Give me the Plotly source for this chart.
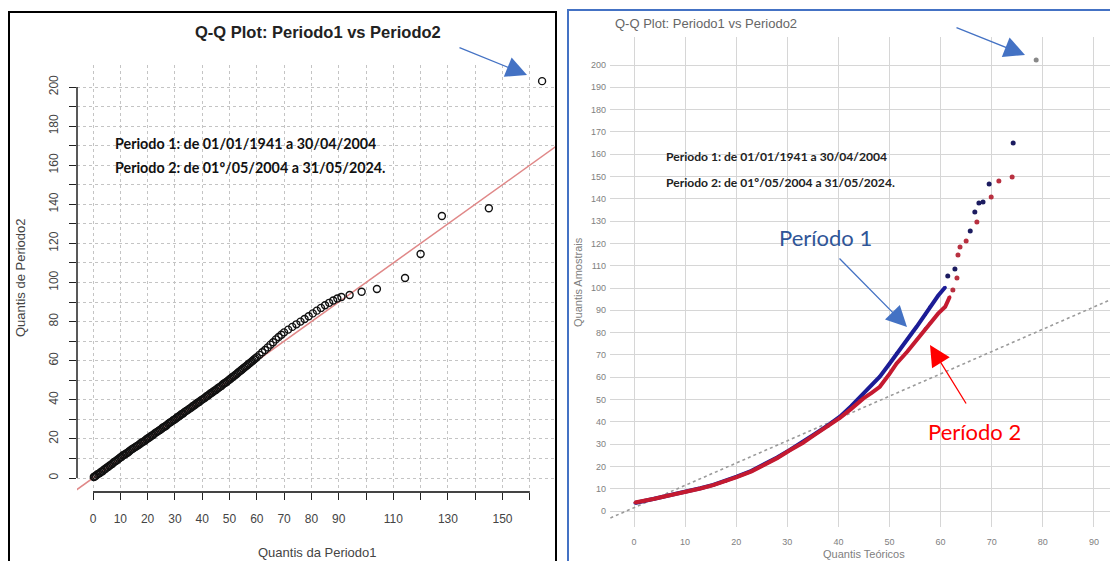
import plotly.graph_objects as go

# The page body has an 8 px margin: the figure is sized to fill the rest of the window.
WIN_OFF = 8
FW, FH = 1118 - WIN_OFF, 561 - WIN_OFF

# ---------------- data: left panel (Periodo1 vs Periodo2 quantiles) ----------------
p1_quantiles = [0.3, 0.6, 1.0, 1.5, 2.0, 2.5, 3.0, 3.5, 4.0, 4.5, 5.0, 5.5, 6.0, 6.5, 7.0, 7.5, 8.0, 8.5, 9.0, 9.5,
                10.0, 10.5, 11.0, 11.5, 12.0, 12.5, 13.0, 13.5, 14.0, 14.5, 15.0, 15.5, 16.0, 16.5, 17.0, 17.5,
                18.0, 18.5, 19.0, 19.5, 20.0, 20.5, 21.0, 21.5, 22.0, 22.5, 23.0, 23.5, 24.0, 24.5, 25.0, 25.5,
                26.0, 26.5, 27.0, 27.5, 28.0, 28.5, 29.0, 29.5, 30.0, 30.5, 31.0, 31.5, 32.0, 32.5, 33.0, 33.5,
                34.0, 34.5, 35.0, 35.5, 36.0, 36.5, 37.0, 37.5, 38.0, 38.5, 39.0, 39.5, 40.0, 40.5, 41.0, 41.5,
                42.0, 42.5, 43.0, 43.5, 44.0, 44.5, 45.0, 45.5, 46.0, 46.5, 47.0, 47.5, 48.0, 48.5, 49.0, 49.5,
                50.0, 50.5, 51.0, 51.5, 52.0, 52.5, 53.0, 53.5, 54.0, 54.5, 55.0, 55.5, 56.0, 56.5, 57.0, 57.5,
                58.0, 58.5, 59.0, 59.5, 60.0,
                61, 62, 63, 64, 65, 66, 67, 68, 69, 70,
                71.5, 73, 74.5, 76, 77.5, 79, 80.5, 82, 83.5, 85, 86.5, 88, 89.5, 91,
                94, 98.4, 104, 114.3, 120, 127.8, 145, 164.5]
p2_quantiles = [0.5, 0.8, 1.1, 1.8, 2.1, 2.6, 3.2, 3.4, 4.2, 4.6, 5.3, 5.6, 6.3, 6.7, 7.2, 7.9, 8.4, 8.8, 9.3, 9.9,
                10.5, 10.9, 11.6, 11.9, 12.4, 12.8, 13.3, 13.9, 14.5, 14.9, 15.4, 15.8, 16.3, 16.7, 17.2, 17.8,
                18.3, 18.6, 19.1, 19.7, 20.2, 20.6, 21.1, 21.7, 22.0, 22.7, 23.2, 23.6, 24.1, 24.6, 25.0, 25.7,
                26.1, 26.5, 27.0, 27.7, 28.2, 28.6, 29.1, 29.7, 30.0, 30.6, 31.2, 31.6, 32.1, 32.7, 33.0, 33.7,
                34.2, 34.6, 35.1, 35.6, 36.0, 36.7, 37.1, 37.6, 38.2, 38.6, 39.0, 39.7, 40.1, 40.6, 41.0, 41.7,
                42.1, 42.6, 43.2, 43.6, 44.1, 44.7, 45.0, 45.7, 46.2, 46.6, 47.1, 47.8, 48.3, 48.7, 49.2, 49.8,
                50.4, 50.9, 51.5, 52.0, 52.6, 53.1, 53.7, 54.3, 54.9, 55.4, 56.0, 56.6, 57.1, 57.7, 58.3, 58.8,
                59.4, 60.0, 60.6, 61.2, 61.8,
                63.0, 64.3, 65.5, 66.8, 68.2, 69.4, 70.9, 72.1, 73.3, 74.5,
                75.9, 77.3, 78.6, 80.0, 81.3, 82.7, 84.2, 85.6, 87.0, 88.4, 89.6, 90.8, 91.8, 92.6,
                93.6, 95.3, 96.7, 102.3, 114.6, 134.0, 138.0, 203.0]
assert len(p1_quantiles) == len(p2_quantiles), (len(p1_quantiles), len(p2_quantiles))
ref_left_x = [-10, 180]
ref_left_y = [-10, 180]

left_xticks = [0, 10, 20, 30, 40, 50, 60, 70, 80, 90, 100, 110, 120, 130, 140, 150, 160]
left_xlabels = ["0", "10", "20", "30", "40", "50", "60", "70", "80", "90", "", "110", "", "130", "", "150", ""]
left_yticks = [0, 10, 20, 30, 40, 50, 60, 70, 80, 90, 100, 110, 120, 130, 140, 150, 160, 170, 180, 190, 200]
left_ylabels = ["0", "", "20", "", "40", "", "60", "", "80", "", "100", "", "120", "", "140", "", "160", "", "180", "", "200"]

# ---------------- data: right panel (theoretical vs sample quantiles) ----------------
per1_curve_x = [0.2, 2, 4, 5.7, 8, 10.3, 13, 15.5, 18, 20.1, 23, 25.3, 28, 30.5, 33, 35.1, 38, 40.3,
                42.5, 44.9, 46.5, 48.1, 50, 51.4, 53.5, 55.3, 57, 57.9, 59.5, 60.9]
per1_curve_y = [3.6, 4.4, 5.4, 6.4, 7.6, 8.7, 10.2, 11.7, 13.5, 15.4, 18.0, 20.6, 24.0, 27.4, 30.8, 34.1, 38.5, 42.3,
                47.0, 52.8, 56.5, 60.2, 66.0, 70.7, 77.0, 82.6, 88.0, 91.6, 96.5, 100.3]
per1_tail_x = [61.4, 62.8, 65.8, 66.7, 67.5, 68.3, 69.5, 74.2]
per1_tail_y = [105.4, 108.5, 125.6, 134.1, 138.1, 138.6, 146.6, 165.0]

per2_curve_x = [0.2, 2, 4, 5.7, 8, 10.3, 13, 15.5, 18, 20.1, 23, 25.3, 28, 30.5, 33, 35.1, 38, 40.3,
                42.5, 44.9, 46.5, 48.1, 50, 51.4, 53.5, 55.3, 57, 57.9, 59.5, 60.9, 61.8]
per2_curve_y = [3.8, 4.5, 5.5, 6.4, 7.5, 8.6, 10.1, 11.6, 13.4, 15.2, 17.8, 20.4, 23.7, 27.2, 30.5, 33.8, 38.0, 41.8,
                45.8, 50.5, 53.0, 55.7, 61.5, 66.2, 71.5, 76.7, 81.8, 84.2, 88.5, 91.6, 96.1]
per2_tail_x = [62.4, 63.2, 63.4, 63.8, 65.0, 67.1, 69.9, 71.4, 74.0]
per2_tail_y = [99.1, 104.5, 114.8, 118.4, 121.1, 129.6, 140.8, 148.0, 149.8]

max_point_x = [78.7]
max_point_y = [202.2]

ref_right_x = [-10, 100]
ref_right_y = [-8.5, 101.5]

right_xticks = [0, 10, 20, 30, 40, 50, 60, 70, 80, 90]
right_yticks = [0, 10, 20, 30, 40, 50, 60, 70, 80, 90, 100, 110, 120, 130, 140, 150, 160, 170, 180, 190, 200]

title_text = "Q-Q Plot: Periodo1 vs Periodo2"
info_1 = "Periodo 1: de 01/01/1941 a 30/04/2004"
info_2 = "Periodo 2: de 01º/05/2004 a 31/05/2024."


def fx(p):
    """window pixel x -> paper x"""
    return (p - WIN_OFF) / FW


def fy(p):
    """window pixel y (from top) -> paper y"""
    return 1 - (p - WIN_OFF) / FH


fig = go.Figure()

# ---- left panel traces ----
fig.add_trace(go.Scatter(x=ref_left_x, y=ref_left_y, mode="lines",
                         line=dict(color="#e08888", width=1.5), xaxis="x", yaxis="y",
                         showlegend=False, hoverinfo="skip"))
fig.add_trace(go.Scatter(x=p1_quantiles, y=p2_quantiles, mode="markers",
                         marker=dict(symbol="circle-open", size=7, color="#111111", line=dict(width=1.4)),
                         xaxis="x", yaxis="y", showlegend=False))

# ---- right panel traces ----
fig.add_trace(go.Scatter(x=ref_right_x, y=ref_right_y, mode="lines",
                         line=dict(color="#9a9a9a", width=1.6, dash="dot"), xaxis="x2", yaxis="y2",
                         showlegend=False, hoverinfo="skip"))
fig.add_trace(go.Scatter(x=per1_curve_x, y=per1_curve_y, mode="lines+markers",
                         line=dict(color="#1c1c96", width=4), marker=dict(size=3, color="#1c1c96"),
                         xaxis="x2", yaxis="y2", showlegend=False))
fig.add_trace(go.Scatter(x=per1_tail_x, y=per1_tail_y, mode="markers",
                         marker=dict(size=5, color="#1c1c60"), xaxis="x2", yaxis="y2", showlegend=False))
fig.add_trace(go.Scatter(x=per2_curve_x, y=per2_curve_y, mode="lines+markers",
                         line=dict(color="#c41a30", width=4), marker=dict(size=3, color="#c41a30"),
                         xaxis="x2", yaxis="y2", showlegend=False))
fig.add_trace(go.Scatter(x=per2_tail_x, y=per2_tail_y, mode="markers",
                         marker=dict(size=5, color="#b83040"), xaxis="x2", yaxis="y2", showlegend=False))
fig.add_trace(go.Scatter(x=max_point_x, y=max_point_y, mode="markers",
                         marker=dict(size=5, color="#888888"), xaxis="x2", yaxis="y2", showlegend=False))

grid_left = dict(showgrid=True, gridcolor="#c4c4c4", gridwidth=1, griddash="dot", zeroline=False, showline=False)
grid_right = dict(showgrid=True, gridcolor="#d6d6d6", gridwidth=1, zeroline=False, showline=False)

fig.update_layout(
    width=FW, height=FH, autosize=False,
    margin=dict(l=0, r=0, t=0, b=0),
    paper_bgcolor="white", plot_bgcolor="white",
    font=dict(family="Liberation Sans, Arial, sans-serif", color="#333333"),
    xaxis=dict(domain=[fx(77), fx(556)], range=[(77 - 93) / 2.73, (556 - 93) / 2.73], anchor="y",
               tickmode="array", tickvals=left_xticks, ticktext=left_xlabels,
               ticks="outside", ticklen=7, tickcolor="#222222", ticklabelstandoff=9,
               tickfont=dict(size=12, color="#444444"), **grid_left),
    yaxis=dict(domain=[fy(492), fy(65)], range=[(478 - 492) / 1.955, (478 - 65) / 1.955], anchor="x",
               tickmode="array", tickvals=left_yticks, ticktext=left_ylabels, tickangle=-90,
               ticks="outside", ticklen=7, tickcolor="#222222", ticklabelstandoff=6,
               tickfont=dict(size=12, color="#444444"), **grid_left),
    xaxis2=dict(domain=[fx(610), 1.0], range=[(610 - 634) / 5.11, (1118 - 634) / 5.11], anchor="y2",
                tickmode="array", tickvals=right_xticks, ticks="", ticklabelstandoff=8,
                tickfont=dict(size=9, color="#808080"), **grid_right),
    yaxis2=dict(domain=[fy(527), fy(37)], range=[(511 - 527) / 2.23, (511 - 37) / 2.23], anchor="x2",
                tickmode="array", tickvals=right_yticks, ticks="", ticklabelstandoff=3,
                tickfont=dict(size=9, color="#808080"), **grid_right),
)

shapes = [
    # R-style axis lines spanning only the tick range
    dict(type="line", xref="x", yref="paper", x0=left_xticks[0], x1=left_xticks[-1],
         y0=fy(492), y1=fy(492), line=dict(color="#444444", width=2)),
    dict(type="line", xref="paper", yref="y", x0=fx(77), x1=fx(77),
         y0=left_yticks[0], y1=left_yticks[-1], line=dict(color="#222222", width=1.5)),
    # panel frames
    dict(type="rect", xref="paper", yref="paper", x0=fx(9), x1=fx(556), y0=fy(570), y1=fy(12),
         line=dict(color="#000000", width=2), layer="above"),
    dict(type="rect", xref="paper", yref="paper", x0=fx(568), x1=fx(1124), y0=fy(570), y1=fy(10),
         line=dict(color="#4472C4", width=2), layer="above"),
]
fig.update_layout(shapes=shapes)

ann = []
# left panel texts
ann.append(dict(x=fx(318), y=fy(32), xref="paper", yref="paper", text="<b>" + title_text + "</b>",
                showarrow=False, font=dict(size=16.5, color="#222222"), xanchor="center", yanchor="middle"))
ann.append(dict(x=fx(113), y=fy(143), xref="paper", yref="paper", text="<b>" + info_1 + "</b>",
                showarrow=False, font=dict(family="Lato, sans-serif", size=14.3, color="#111111"),
                xanchor="left", yanchor="middle"))
ann.append(dict(x=fx(113), y=fy(167), xref="paper", yref="paper", text="<b>" + info_2 + "</b>",
                showarrow=False, font=dict(family="Lato, sans-serif", size=14.3, color="#111111"),
                xanchor="left", yanchor="middle"))
ann.append(dict(x=fx(317), y=fy(552), xref="paper", yref="paper", text="Quantis da Periodo1",
                showarrow=False, font=dict(size=13, color="#444444"), xanchor="center", yanchor="middle"))
ann.append(dict(x=fx(20), y=fy(278), xref="paper", yref="paper", text="Quantis de Periodo2", textangle=-90,
                showarrow=False, font=dict(size=13, color="#444444"), xanchor="center", yanchor="middle"))
# right panel texts
ann.append(dict(x=fx(613), y=fy(24), xref="paper", yref="paper", text=title_text,
                showarrow=False, font=dict(size=13, color="#666666"), xanchor="left", yanchor="middle"))
ann.append(dict(x=fx(664), y=fy(156), xref="paper", yref="paper", text="<b>" + info_1 + "</b>",
                showarrow=False, font=dict(family="Lato, sans-serif", size=12.1, color="#222222"),
                xanchor="left", yanchor="middle"))
ann.append(dict(x=fx(664), y=fy(182), xref="paper", yref="paper", text="<b>" + info_2 + "</b>",
                showarrow=False, font=dict(family="Lato, sans-serif", size=12.1, color="#222222"),
                xanchor="left", yanchor="middle"))
ann.append(dict(x=fx(864), y=fy(554), xref="paper", yref="paper", text="Quantis Teóricos",
                showarrow=False, font=dict(size=11, color="#808080"), xanchor="center", yanchor="middle"))
ann.append(dict(x=fx(578), y=fy(282), xref="paper", yref="paper", text="Quantis Amostrais", textangle=-90,
                showarrow=False, font=dict(size=11, color="#808080"), xanchor="center", yanchor="middle"))
ann.append(dict(x=fx(825), y=fy(238), xref="paper", yref="paper", text="Período 1",
                showarrow=False, font=dict(family="Lato, sans-serif", size=22, color="#2F5597"),
                xanchor="center", yanchor="middle"))
ann.append(dict(x=fx(974), y=fy(431), xref="paper", yref="paper", text="Período 2",
                showarrow=False, font=dict(family="Lato, sans-serif", size=22, color="#FF0000"),
                xanchor="center", yanchor="middle"))
# arrows (tip at x,y in window pixels; tail offset ax,ay in px)
arrow_specs = [
    (527, 75, -69, -28, "#4472C4"),
    (1025, 55, -70, -28, "#4472C4"),
    (907, 327, -69, -70, "#4472C4"),
    (930, 345, 37, 60, "#FF0000"),
]
for tx, ty, axp, ayp, col in arrow_specs:
    ann.append(dict(x=fx(tx), y=fy(ty), xref="paper", yref="paper", text="", showarrow=True,
                    ax=axp, ay=ayp, arrowhead=2, arrowsize=3.2, arrowwidth=1.3, arrowcolor=col,
                    standoff=0, startstandoff=0))
fig.update_layout(annotations=ann)

fig.write_html("out.html")
